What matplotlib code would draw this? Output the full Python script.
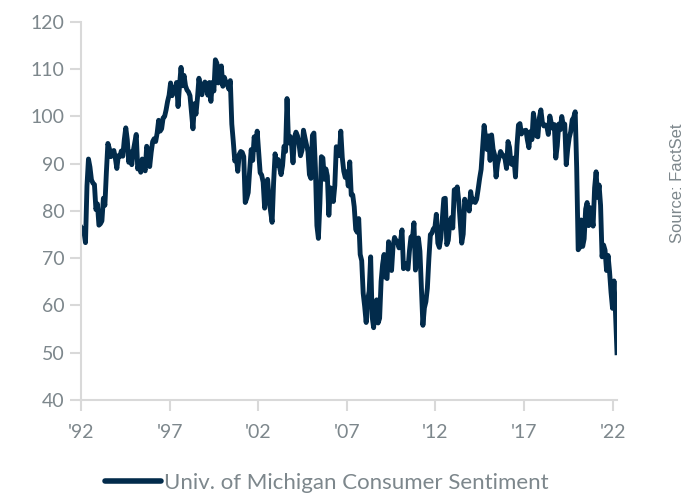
import numpy as np
import matplotlib.pyplot as plt
from matplotlib.lines import Line2D

# Univ. of Michigan Consumer Sentiment, monthly, Jul 1992 - Jun 2022
sentiment = [
    76.6, 76.1, 75.6, 73.3, 85.3, 91.0,
    89.3, 86.6, 85.9, 85.6, 80.3, 81.5, 77.0, 77.3, 77.9, 82.7, 81.2, 88.2,
    94.3, 93.2, 91.5, 92.6, 92.8, 91.2, 89.0, 91.7, 91.5, 92.7, 91.6, 95.1,
    97.6, 95.1, 90.3, 92.5, 89.8, 92.7, 94.4, 96.2, 88.9, 90.2, 88.2, 91.0,
    89.3, 88.5, 93.7, 92.7, 89.4, 92.4, 94.7, 95.3, 94.7, 96.5, 99.2, 96.9,
    97.4, 99.7, 100.0, 101.4, 103.2, 104.5, 107.1, 104.4, 106.0, 105.6, 107.2, 102.1,
    106.6, 110.4, 106.5, 108.7, 106.5, 105.6, 105.2, 104.4, 100.9, 97.4, 102.7, 100.5,
    103.9, 108.1, 105.7, 104.6, 106.8, 107.3, 106.0, 104.5, 107.2, 103.2, 107.2, 105.4,
    112.0, 111.3, 107.1, 109.2, 110.7, 106.4, 108.3, 107.3, 106.8, 105.8, 107.6, 98.4,
    94.7, 90.6, 91.5, 88.4, 92.0, 92.6, 92.4, 91.5, 81.8, 82.7, 83.9, 88.8,
    93.0, 90.7, 95.7, 93.0, 96.9, 92.4, 88.1, 87.6, 86.1, 80.6, 84.2, 86.7,
    82.4, 79.9, 77.6, 86.0, 92.1, 89.7, 90.9, 89.3, 87.7, 89.6, 93.7, 92.6,
    103.8, 94.4, 95.8, 94.2, 90.2, 95.6, 96.7, 95.9, 94.2, 91.7, 92.8, 97.1,
    95.5, 94.1, 92.6, 87.7, 86.9, 96.0, 96.5, 89.1, 76.9, 74.2, 81.6, 91.5,
    91.2, 86.7, 88.9, 87.4, 79.1, 84.9, 84.7, 82.0, 85.4, 93.6, 92.1, 91.7,
    96.9, 91.3, 88.4, 87.1, 88.3, 85.3, 90.4, 83.4, 83.4, 80.9, 76.1, 75.5,
    78.4, 70.8, 69.5, 62.6, 59.8, 56.4, 61.2, 63.0, 70.3, 57.6, 55.3, 60.1,
    61.2, 56.3, 57.3, 65.1, 68.7, 70.8, 66.0, 65.7, 73.5, 70.6, 67.4, 72.5,
    74.4, 73.6, 73.6, 72.2, 73.6, 76.0, 67.8, 68.9, 68.2, 67.7, 71.6, 74.5,
    74.2, 77.5, 67.5, 69.8, 74.3, 71.5, 63.7, 55.8, 59.5, 60.8, 63.7, 69.9,
    75.0, 75.3, 76.2, 76.4, 79.3, 73.2, 72.3, 74.3, 78.3, 82.6, 82.7, 72.9,
    73.8, 77.6, 78.6, 76.4, 84.5, 84.1, 85.1, 82.1, 77.5, 73.2, 75.1, 82.5,
    81.2, 81.6, 80.0, 84.1, 81.9, 82.5, 81.8, 82.5, 84.6, 86.9, 88.8, 93.6,
    98.1, 95.4, 93.0, 95.9, 90.7, 96.1, 93.1, 91.9, 87.2, 90.0, 91.3, 92.6,
    92.0, 91.7, 91.0, 89.0, 94.7, 93.5, 90.0, 89.8, 91.2, 87.2, 93.8, 98.2,
    98.5, 96.3, 96.9, 97.0, 97.1, 95.0, 93.4, 96.8, 95.1, 100.7, 98.5, 95.9,
    95.7, 99.7, 101.4, 98.8, 98.0, 98.2, 97.9, 96.2, 100.1, 98.6, 97.5, 98.3,
    91.2, 93.8, 98.4, 97.2, 100.0, 98.2, 98.4, 89.8, 93.2, 95.5, 96.8, 99.3,
    99.8, 101.0, 89.1, 71.8, 72.3, 78.1, 72.5, 74.1, 80.4, 81.8, 76.9, 80.7,
    79.0, 76.8, 84.9, 88.3, 82.9, 85.5, 81.2, 70.3, 72.8, 71.7, 67.4, 70.6,
    67.2, 62.8, 59.4, 65.2, 58.4, 50.0,
]
tick_labels = ["'92", "'97", "'02", "'07", "'12", "'17", "'22"]
y_ticks = [40, 50, 60, 70, 80, 90, 100, 110, 120]

navy = '#022b4b'
grey_txt = '#7d878c'
grey_ax = '#d9d9d9'

plt.rcParams['font.family'] = ['Lato', 'DejaVu Sans']

x = np.arange(len(sentiment))

fig = plt.figure(figsize=(6.86, 4.95), dpi=100)
ax = fig.add_axes([81 / 686, 95 / 495, 536 / 686, 378 / 495])

ax.plot(x, sentiment, color=navy, linewidth=3.5, solid_joinstyle='round')

ax.set_xlim(0, len(sentiment) - 1)
ax.set_xticks(np.linspace(0, len(sentiment) - 4, len(tick_labels)))
ax.set_xticklabels(tick_labels)
ax.set_ylim(40, 120)
ax.set_yticks(y_ticks)

for side in ['top', 'right']:
    ax.spines[side].set_visible(False)
for side in ['left', 'bottom']:
    ax.spines[side].set_color(grey_ax)
    ax.spines[side].set_linewidth(1.5)
ax.tick_params(axis='both', colors=grey_ax, width=1.5, length=8,
               labelcolor=grey_txt, labelsize=14)
ax.tick_params(axis='x', pad=9)
ax.tick_params(axis='y', pad=4)

handle = Line2D([], [], color=navy, linewidth=4, solid_capstyle='round')
fig.legend([handle], ['Univ. of Michigan Consumer Sentiment'],
           loc='center left', bbox_to_anchor=(105 / 686, 12 / 495),
           frameon=False, fontsize=16, labelcolor=grey_txt,
           borderpad=0, borderaxespad=0,
           handlelength=2.5, handletextpad=0.15)

fig.text(678 / 686, (495 - 183) / 495, 'Source: FactSet', rotation=90,
         ha='center', va='center', fontsize=12, color=grey_txt,
         family=['Liberation Sans', 'DejaVu Sans'])

fig.savefig('out.png', dpi=100)
